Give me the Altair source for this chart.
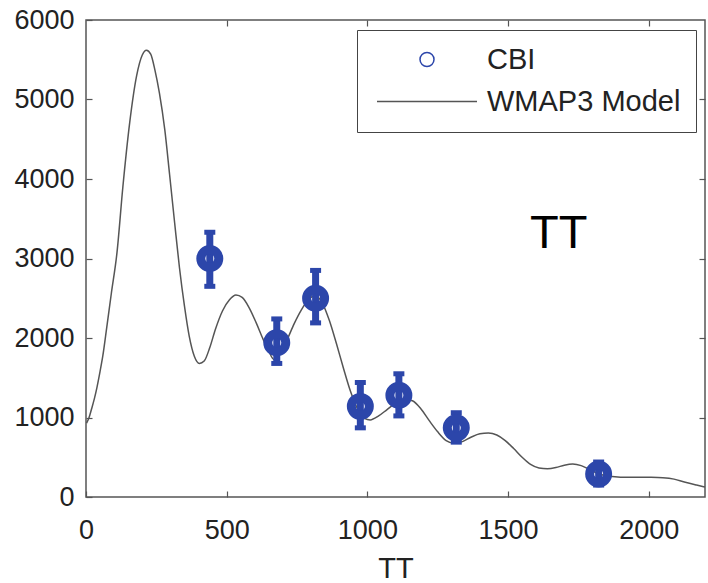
import altair as alt
import pandas as pd

# ---------------- data ----------------
model_ell = [2, 10, 20, 30, 39, 50, 60, 74, 90, 110, 131, 155, 180, 200, 215, 230, 245, 261,
             280, 297, 315, 332, 350, 367, 385, 403, 420, 440, 460, 485, 510, 533, 555, 580,
             605, 630, 650, 668, 690, 715, 740, 765, 790, 815, 840, 865, 890, 915, 940, 965,
             990, 1010, 1040, 1070, 1100, 1130, 1160, 1190, 1220, 1250, 1280, 1310, 1340,
             1370, 1400, 1430, 1460, 1490, 1520, 1550, 1580, 1610, 1640, 1670, 1700, 1730,
             1760, 1790, 1820, 1860, 1900, 1950, 2000, 2050, 2090, 2130, 2170, 2200]
model_cl = [930, 990, 1110, 1240, 1380, 1580, 1780, 2140, 2560, 3070, 3900, 4700, 5300, 5560,
            5620, 5570, 5370, 5080, 4620, 4060, 3450, 2890, 2400, 2020, 1770, 1680, 1710, 1880,
            2110, 2340, 2480, 2540, 2510, 2380, 2190, 1980, 1830, 1730, 1800, 1980, 2180, 2350,
            2480, 2530, 2440, 2220, 1930, 1620, 1330, 1110, 990, 970, 1020, 1100, 1180, 1230,
            1210, 1110, 960, 820, 710, 675, 700, 755, 795, 805, 780, 710, 610, 500, 410, 365,
            355, 370, 400, 415, 395, 345, 295, 260, 250, 250, 248, 242, 225, 185, 150, 125]

cbi_ell = [440, 678, 816, 975, 1112, 1316, 1822]
cbi_cl = [3000, 1940, 2500, 1140, 1280, 870, 290]
cbi_lo = [2650, 1680, 2190, 870, 1020, 690, 150]
cbi_hi = [3330, 2240, 2850, 1440, 1550, 1060, 440]

series_names = ["CBI", "WMAP3 Model"]
x_ticks = [0, 500, 1000, 1500, 2000]
y_ticks = [0, 1000, 2000, 3000, 4000, 5000, 6000]
note_label = ["TT"]
note_x = [1680]
note_y = [3130]

model_df = pd.DataFrame({"ell": model_ell, "cl": model_cl, "series": series_names[1]})
cbi_df = pd.DataFrame({"ell": cbi_ell, "cl": cbi_cl, "lo": cbi_lo, "hi": cbi_hi,
                       "series": series_names[0]})
note_df = pd.DataFrame({"x": note_x, "y": note_y, "label": note_label})

# ---------------- style ----------------
FONT = "Liberation Sans"
BLUE = "#2c46aa"
GREY = "#555555"
TXT = "#222222"

xscale = alt.Scale(domain=[0, 2200], nice=False, zero=False)
yscale = alt.Scale(domain=[0, 6000], nice=False)
color_scale = alt.Scale(domain=series_names, range=[BLUE, GREY])
circle_path = "M1.4,0A1.4,1.4,0,1,1,-1.4,0A1.4,1.4,0,1,1,1.4,0Z"
line_path = "M-10,0L10,0"
shape_scale = alt.Scale(domain=series_names, range=[circle_path, line_path])

legend = alt.Legend(
    title=None, orient="none", legendX=271, legendY=10, direction="vertical",
    strokeColor="#444444", fillColor="white", padding=15,
    symbolSize=100, symbolStrokeWidth=1.5, symbolOffset=40.5, labelOffset=45.5,
    labelFont=FONT, labelFontSize=29, labelColor=TXT, rowPadding=12, labelLimit=400,
)

tick_common = dict(offset=-6, tickSize=6, tickColor=GREY, tickWidth=1.2, domain=False,
                   grid=False, labelFlush=False, labelOverlap=False, format="d")

x_bottom = alt.Axis(orient="bottom", values=x_ticks, labelFont=FONT, labelFontSize=27,
                    labelColor=TXT, labelPadding=20, title="TT", titleFont=FONT,
                    titleFontSize=29, titleFontWeight="normal", titleColor=TXT,
                    titlePadding=11, **tick_common)
y_left = alt.Axis(orient="left", values=y_ticks, labelFont=FONT, labelFontSize=27,
                  labelColor=TXT, labelPadding=12, title=None, **tick_common)
x_top = alt.Axis(orient="top", values=x_ticks[1:], labels=False, title=None, **tick_common)
y_right = alt.Axis(orient="right", values=y_ticks[1:-1], labels=False, title=None, **tick_common)

line = alt.Chart(model_df).mark_line(strokeWidth=1.5, interpolate="monotone").encode(
    x=alt.X("ell:Q", scale=xscale, axis=x_bottom),
    y=alt.Y("cl:Q", scale=yscale, axis=y_left),
    color=alt.Color("series:N", scale=color_scale, legend=legend),
)

bars = alt.Chart(cbi_df).mark_rule(strokeWidth=7, color=BLUE).encode(
    x=alt.X("ell:Q", scale=xscale, axis=None),
    y=alt.Y("lo:Q", scale=yscale, axis=None),
    y2="hi:Q",
)

caps = alt.Chart(cbi_df).transform_fold(["lo", "hi"]).mark_tick(
    orient="horizontal", size=11, thickness=5, color=BLUE, opacity=1
).encode(
    x=alt.X("ell:Q", scale=xscale, axis=None),
    y=alt.Y("value:Q", scale=yscale, axis=None),
)

points = alt.Chart(cbi_df).mark_point(filled=False, size=165, strokeWidth=9, opacity=1).encode(
    x=alt.X("ell:Q", scale=xscale, axis=x_top),
    y=alt.Y("cl:Q", scale=yscale, axis=y_right),
    color=alt.Color("series:N", scale=color_scale, legend=legend),
    shape=alt.Shape("series:N", scale=shape_scale, legend=legend),
)

note = alt.Chart(note_df).mark_text(fontSize=47, font=FONT, color="black", align="center",
                                    baseline="alphabetic").encode(
    x=alt.X("x:Q", scale=xscale, axis=None),
    y=alt.Y("y:Q", scale=yscale, axis=None),
    text="label:N",
)

chart = alt.layer(line, bars, caps, points, note).resolve_axis(
    x="independent", y="independent"
).properties(
    width=619, height=477,
    padding={"left": 86, "top": 20, "right": 3, "bottom": 86},
    autosize="none", background="white",
).configure_view(stroke="#555555", strokeWidth=1.5)

chart.save("out.html", embed_options={"renderer": "svg", "actions": False})
